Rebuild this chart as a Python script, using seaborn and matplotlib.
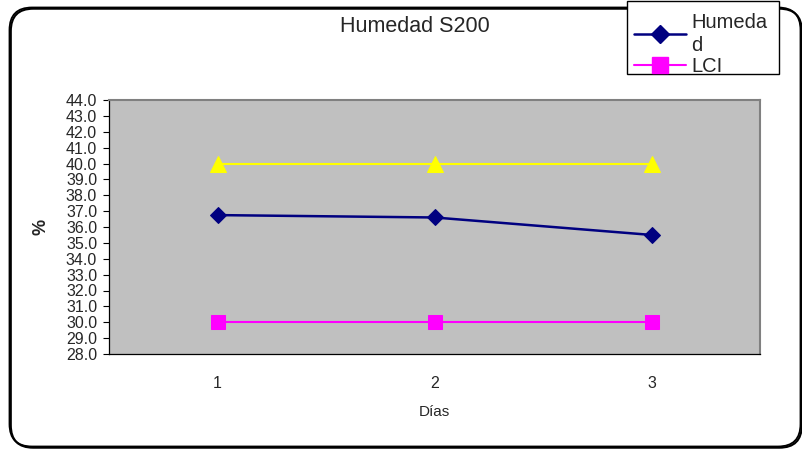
import matplotlib
matplotlib.use("Agg")
import matplotlib.pyplot as plt
from matplotlib.patches import FancyBboxPatch, Rectangle
from matplotlib.lines import Line2D
import seaborn as sns
import pandas as pd

dias = [1, 2, 3]
humedad = [36.75, 36.6, 35.5]
lci = [30.0, 30.0, 30.0]
lcs = [40.0, 40.0, 40.0]
y_ticks = [28 + i for i in range(17)]

sns.set_theme(style="white")
plt.rcParams["font.family"] = ["Liberation Sans", "DejaVu Sans"]

df = pd.DataFrame({"Días": dias, "Humedad": humedad, "LCI": lci, "LCS": lcs})

W, H = 802, 450
fig = plt.figure(figsize=(W / 100, H / 100), dpi=100)
ax = fig.add_axes([109 / W, 1 - 354 / H, (760 - 109) / W, (354 - 100) / H])
ax.set_facecolor("#C0C0C0")

sns.lineplot(data=df, x="Días", y="LCS", ax=ax, color="#FFFF00", marker="^",
             markersize=12, markeredgecolor="#FFFF00", linewidth=1.5)
sns.lineplot(data=df, x="Días", y="Humedad", ax=ax, color="#000080", marker="D",
             markersize=8.5, markeredgecolor="#000080", linewidth=1.8)
sns.lineplot(data=df, x="Días", y="LCI", ax=ax, color="#FF00FF", marker="s",
             markersize=10.5, markeredgecolor="#FF00FF", linewidth=1.5)

ax.set_xlim(0.5, 3.5)
ax.set_ylim(28, 44)
ax.set_yticks(y_ticks)
ax.set_yticklabels([f"{v:.1f}" for v in y_ticks], fontsize=11.5)
ax.set_xticks([0.5, 1.5, 2.5, 3.5])
ax.set_xticklabels([])
ax.set_xticks(dias, minor=True)
ax.set_xticklabels([str(d) for d in dias], minor=True, fontsize=11.5)
ax.tick_params(axis="x", which="major", direction="out", length=5, width=0.8, color="black")
ax.tick_params(axis="x", which="minor", length=0, pad=16)
ax.tick_params(axis="y", direction="out", length=4.5, width=0.8, color="black", pad=4, left=True)

for side in ("top", "right"):
    ax.spines[side].set_color("#808080")
    ax.spines[side].set_linewidth(1.5)
for side in ("left", "bottom"):
    ax.spines[side].set_color("black")
    ax.spines[side].set_linewidth(0.9)

ax.set_xlabel("Días", fontsize=11, labelpad=10)
ax.set_ylabel("%", fontsize=13, fontweight="bold", labelpad=12)

fig.text(415 / W, 1 - 27 / H, "Humedad S200", ha="center", va="center", fontsize=15.5)

# rounded outer frame of the chart, with a slight shadow on the bottom-right
shadow = FancyBboxPatch((10.8 / W, 2.3 / H), 791 / W, 439 / H,
                        boxstyle="round,pad=0,rounding_size=0.028",
                        transform=fig.transFigure, fill=False,
                        edgecolor="black", linewidth=1.5, mutation_aspect=W / H)
frame = FancyBboxPatch((9.5 / W, 3.5 / H), 791 / W, 439 / H,
                       boxstyle="round,pad=0,rounding_size=0.028",
                       transform=fig.transFigure, fill=False,
                       edgecolor="black", linewidth=1.3, mutation_aspect=W / H)
fig.patches.append(shadow)
fig.patches.append(frame)

# legend box
legend_box = Rectangle((627 / W, 1 - 74 / H), (779 - 627) / W, 73 / H,
                       transform=fig.transFigure, facecolor="white",
                       edgecolor="black", linewidth=1.0, zorder=4)
fig.patches.append(legend_box)

handles = [
    Line2D([], [], color="#000080", marker="D", markersize=9, linewidth=1.8),
    Line2D([], [], color="#FF00FF", marker="s", markersize=11, linewidth=1.5),
]
leg = fig.legend(handles, ["Humeda\nd", "LCI"], loc="upper left",
                 bbox_to_anchor=(634 / W, 1 - 13 / H), fontsize=14.5,
                 frameon=False, handlelength=2.6, handletextpad=0.25,
                 borderpad=0, labelspacing=0.1, borderaxespad=0)
for t in leg.get_texts():
    t.set_linespacing(1.25)
leg.set_zorder(5)

fig.savefig("out.png", dpi=100)
